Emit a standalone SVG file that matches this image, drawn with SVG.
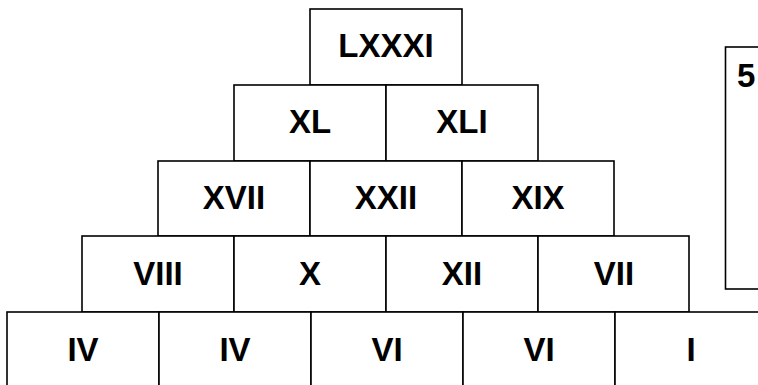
<svg xmlns="http://www.w3.org/2000/svg" width="758" height="385" viewBox="0 0 758 385">
<style>
.b{fill:#fff;stroke:#000;stroke-width:1.6}
.t{font-family:"Liberation Sans",Arial,sans-serif;font-weight:bold;font-size:33px;fill:#000;text-anchor:middle}
</style>
<rect width="758" height="385" fill="#fff"/>
<g id="side">
<rect class="b" x="725.5" y="47" width="40" height="242"/>
<text class="t" x="737" y="87" style="text-anchor:start">5</text>
</g>
<g id="n1"><rect class="b" x="310" y="9" width="152" height="76"/><text class="t" x="386" y="57">LXXXI</text></g>
<g id="n2a"><rect class="b" x="234" y="85" width="152" height="76"/><text class="t" x="310" y="133">XL</text></g>
<g id="n2b"><rect class="b" x="386" y="85" width="152" height="76"/><text class="t" x="462" y="133">XLI</text></g>
<g id="n3a"><rect class="b" x="158" y="161" width="152" height="75"/><text class="t" x="234" y="209">XVII</text></g>
<g id="n3b"><rect class="b" x="310" y="161" width="152" height="75"/><text class="t" x="386" y="209">XXII</text></g>
<g id="n3c"><rect class="b" x="462" y="161" width="152" height="75"/><text class="t" x="538" y="209">XIX</text></g>
<g id="n4a"><rect class="b" x="82" y="236" width="152" height="76"/><text class="t" x="158" y="285">VIII</text></g>
<g id="n4b"><rect class="b" x="234" y="236" width="152" height="76"/><text class="t" x="310" y="285">X</text></g>
<g id="n4c"><rect class="b" x="386" y="236" width="152" height="76"/><text class="t" x="462" y="285">XII</text></g>
<g id="n4d"><rect class="b" x="538" y="236" width="151" height="76"/><text class="t" x="614" y="285">VII</text></g>
<g id="n5a"><rect class="b" x="7" y="312" width="152" height="76"/><text class="t" x="83" y="361">IV</text></g>
<g id="n5b"><rect class="b" x="159" y="312" width="152" height="76"/><text class="t" x="235" y="361">IV</text></g>
<g id="n5c"><rect class="b" x="311" y="312" width="152" height="76"/><text class="t" x="387" y="361">VI</text></g>
<g id="n5d"><rect class="b" x="463" y="312" width="152" height="76"/><text class="t" x="539" y="361">VI</text></g>
<g id="n5e"><rect class="b" x="615" y="312" width="152" height="76"/><text class="t" x="691" y="361">I</text></g>
<g id="connectors"></g>
</svg>
